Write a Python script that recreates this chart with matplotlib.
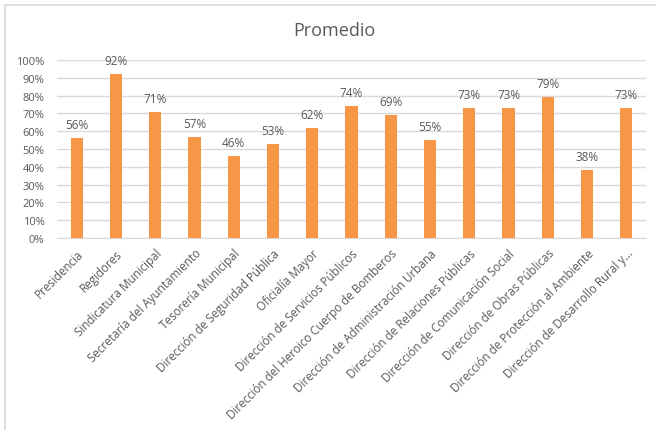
import matplotlib
matplotlib.use("Agg")
import matplotlib.pyplot as plt
from matplotlib.patches import Rectangle

categories = ["Presidencia", "Regidores", "Sindicatura Municipal", "Secretaría del Ayuntamiento",
              "Tesorería Municipal", "Dirección de Seguridad Pública", "Oficialía Mayor",
              "Dirección de Servicios Públicos", "Dirección del Heroico Cuerpo de Bomberos",
              "Dirección de Administración Urbana", "Dirección de Relaciones Públicas",
              "Dirección de Comunicación Social", "Dirección de Obras Públicas",
              "Dirección de Protección al Ambiente", "Dirección de Desarrollo Rural y..."]
values = [56, 92, 71, 57, 46, 53, 62, 74, 69, 55, 73, 73, 79, 38, 73]
yticks = [0, 10, 20, 30, 40, 50, 60, 70, 80, 90, 100]
title = "Promedio"

plt.rcParams['font.family'] = ['Open Sans', 'DejaVu Sans']
W, H = 656, 431
fig = plt.figure(figsize=(W/100, H/100), dpi=100)
txt = '#595959'
grid = '#D9D9D9'

# outer chart border (cropped at right/bottom)
fig.patches.append(Rectangle((5/W, -0.1), 1.2, 1 - 6/H + 0.1, transform=fig.transFigure,
                             fill=False, edgecolor=grid, linewidth=1.2))

ax = fig.add_axes([57/W, 1 - 239/H, (646-57)/W, (239-61)/H])
x = list(range(len(categories)))
ax.bar(x, values, width=0.31, color='#F79646', zorder=3)
for xi, v in zip(x, values):
    ax.annotate(f"{v}%", (xi, v), xytext=(0, 5), textcoords='offset points',
                ha='center', va='bottom', fontsize=8.5, color=txt)
ax.set_xlim(-0.5, len(categories) - 0.5)
ax.set_ylim(0, 100)
ax.set_yticks(yticks)
ax.set_yticklabels([f"{t}%" for t in yticks], fontsize=8, color=txt)
ax.set_xticks(x)
ax.set_xticklabels(categories, rotation=45, ha='right', rotation_mode='anchor',
                   fontsize=8.4, color=txt)
ax.tick_params(axis='both', length=0)
ax.tick_params(axis='y', pad=9)
ax.tick_params(axis='x', pad=6)
ax.grid(axis='y', color=grid, linewidth=1, zorder=0)
for s in ['top', 'right', 'left']:
    ax.spines[s].set_visible(False)
ax.spines['bottom'].set_color(grid)
ax.spines['bottom'].set_zorder(0)
fig.text(334/W, 1 - 31/H, title, ha='center', va='center', fontsize=13, color=txt)

fig.savefig("out.png", dpi=100)
